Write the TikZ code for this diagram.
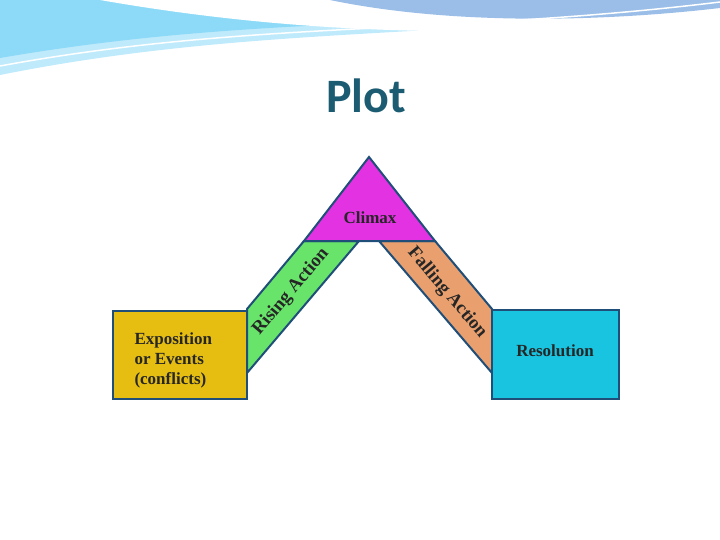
\documentclass[tikz,border=0pt]{standalone}
\usepackage{fontspec}
\setmainfont{Liberation Serif}
\newfontfamily\titlefont{Carlito}
\definecolor{edgeblue}{HTML}{1F4E79}
\definecolor{expoyellow}{HTML}{E6BE12}
\definecolor{risegreen}{HTML}{68E46A}
\definecolor{climaxpink}{HTML}{E232E2}
\definecolor{fallorange}{HTML}{E9A06E}
\definecolor{resocyan}{HTML}{18C4E0}
\definecolor{titleteal}{HTML}{1B5C73}
\tikzset{
  part/.style={draw=edgeblue, line width=2pt, line join=miter},
  lbl/.style={font=\fontsize{17}{20}\selectfont\bfseries, text=black!85},
  bandlbl/.style={font=\fontsize{18.5}{22}\selectfont\bfseries, text=black!85, inner sep=0pt},
}
\begin{document}
\begin{tikzpicture}[x=1pt,y=-1pt]
\useasboundingbox (0,0) rectangle (720,540);
% top waves
\fill[cyan!25] (0,75) .. controls (250,25) and (450,40) .. (720,5) -- (720,0) -- (0,0) -- cycle;
\fill[cyan!45] (0,58) .. controls (250,15) and (420,30) .. (720,0) -- (0,0) -- cycle;
\fill[white] (100,0) .. controls (300,35) and (500,40) .. (720,18) -- (720,0) -- cycle;
\fill[cyan!60!blue!40] (330,0) .. controls (450,25) and (600,22) .. (720,8) -- (720,0) -- cycle;
\draw[white, line width=1.5pt] (0,66) .. controls (250,20) and (450,35) .. (720,2);
% title
\node[font=\titlefont\fontsize{48}{52}\selectfont\bfseries, text=titleteal] (title) at (366,96) {Plot};
% parts
\draw[part, fill=expoyellow] (113,311) rectangle (247,399);
\draw[part, fill=risegreen] (247,373) -- (247,309) -- (304,241) -- (359,241) -- cycle;
\draw[part, fill=fallorange] (379,241) -- (435,241) -- (492,309) -- (492,373) -- cycle;
\draw[part, fill=climaxpink] (369,157) -- (435,241) -- (304,241) -- cycle;
\draw[part, fill=resocyan] (492,310) rectangle (619,399);
% labels
\node[lbl, align=left, anchor=west] (expo) at (131,360) {Exposition\\or Events\\(conflicts)};
\node[lbl] (climax) at (370,218) {Climax};
\node[bandlbl, rotate=49.7] (rising) at (291,292) {Rising Action};
\node[bandlbl, rotate=-49.7] (falling) at (447,293) {Falling Action};
\node[lbl] (reso) at (555,351) {Resolution};
\end{tikzpicture}
\end{document}
